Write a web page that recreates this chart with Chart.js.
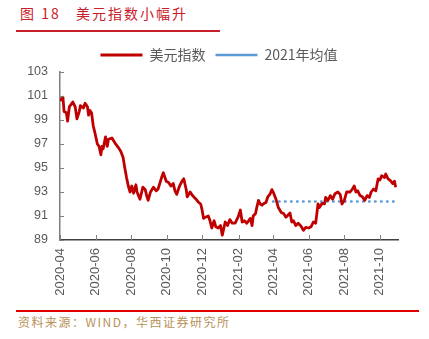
<!DOCTYPE html>
<html>
<head>
<meta charset="utf-8">
<script src="https://cdn.jsdelivr.net/npm/chart.js@4.4.0/dist/chart.umd.min.js"></script>
<style>
  html, body { margin: 0; padding: 0; background: #fff; }
  body { width: 429px; height: 339px; position: relative; overflow: hidden; font-family: "Noto Sans CJK SC", sans-serif; }
  #title { position: absolute; left: 20px; top: 3px; font-size: 14px; color: #C8202A; letter-spacing: 2px; white-space: pre; }
  #topline { position: absolute; left: 16px; top: 30px; width: 204px; height: 2px; background: #C8202A; }
  #wrap { position: absolute; left: 0; top: 38px; width: 429px; height: 267px; }
  #botline { position: absolute; left: 16px; top: 310px; width: 403px; height: 2px; background: #E00000; }
  #source { position: absolute; left: 18px; top: 313px; font-size: 12px; color: #B8925A; letter-spacing: 1.5px; }
</style>
</head>
<body>
<div id="title">图 18   美元指数小幅升</div>
<div id="topline"></div>
<div id="wrap"><canvas id="myChart"></canvas></div>
<div id="botline"></div>
<div id="source">资料来源：WIND，华西证券研究所</div>
<script>
// 美元指数
const dates = [
  '2020-04-01','2020-04-06','2020-04-08','2020-04-12','2020-04-14','2020-04-17','2020-04-23','2020-04-27','2020-04-30',
  '2020-05-04','2020-05-06','2020-05-11','2020-05-14','2020-05-18','2020-05-20','2020-05-22','2020-05-25','2020-05-28','2020-05-31',
  '2020-06-04','2020-06-07','2020-06-10','2020-06-12','2020-06-14','2020-06-18','2020-06-21','2020-06-23','2020-06-29',
  '2020-07-04','2020-07-10','2020-07-14','2020-07-18','2020-07-21','2020-07-24','2020-07-27','2020-07-30',
  '2020-08-02','2020-08-05','2020-08-09','2020-08-11','2020-08-16','2020-08-21','2020-08-25','2020-08-28','2020-08-30',
  '2020-09-03','2020-09-08','2020-09-13','2020-09-16','2020-09-22','2020-09-25','2020-09-30',
  '2020-10-04','2020-10-08','2020-10-12','2020-10-15','2020-10-18','2020-10-22','2020-10-27','2020-10-30',
  '2020-11-03','2020-11-05','2020-11-10','2020-11-14','2020-11-20','2020-11-24','2020-11-28','2020-11-30',
  '2020-12-03','2020-12-06','2020-12-11','2020-12-14','2020-12-17','2020-12-21','2020-12-24','2020-12-28',
  '2021-01-01','2021-01-04','2021-01-09','2021-01-13','2021-01-17','2021-01-21','2021-01-26','2021-01-31',
  '2021-02-04','2021-02-07','2021-02-11','2021-02-15','2021-02-18','2021-02-21','2021-02-24','2021-02-26',
  '2021-03-02','2021-03-04','2021-03-07','2021-03-10','2021-03-13','2021-03-15','2021-03-20','2021-03-23','2021-03-27','2021-03-30',
  '2021-04-02','2021-04-06','2021-04-10','2021-04-15','2021-04-19','2021-04-23','2021-04-26','2021-04-30',
  '2021-05-03','2021-05-06','2021-05-10','2021-05-14','2021-05-19','2021-05-23','2021-05-27',
  '2021-06-01','2021-06-05','2021-06-09','2021-06-13','2021-06-17','2021-06-19','2021-06-24','2021-06-28','2021-06-30',
  '2021-07-04','2021-07-08','2021-07-12','2021-07-16','2021-07-21','2021-07-25','2021-07-28',
  '2021-08-01','2021-08-05','2021-08-11','2021-08-15','2021-08-18','2021-08-21','2021-08-24','2021-08-28',
  '2021-09-01','2021-09-05','2021-09-09','2021-09-13','2021-09-16','2021-09-20','2021-09-24','2021-09-28',
  '2021-10-01','2021-10-04','2021-10-09','2021-10-11','2021-10-15','2021-10-19','2021-10-23','2021-10-26','2021-10-28'
]
const dxy = [
  100.6,100.9,99.7,99.6,98.9,100.1,100.5,100.1,99.1,
  99.7,100.2,100.0,100.4,100.1,99.4,99.8,99.6,98.5,97.9,
  97.0,96.8,96.1,96.8,96.6,97.6,96.8,97.4,97.5,
  97.1,96.7,96.4,95.9,95.0,94.2,93.5,93.0,
  93.5,92.9,93.6,93.0,92.4,93.4,93.2,92.6,92.3,
  93.0,93.4,93.1,93.25,94.2,94.6,93.9,
  93.8,93.5,93.7,93.1,92.8,93.4,93.9,94.1,
  93.25,92.6,93.0,92.7,92.4,92.15,92.0,91.6,
  90.8,90.9,91.0,90.6,90.0,90.6,90.1,90.0,
  90.2,89.4,90.5,90.2,90.7,90.4,90.4,90.9,
  91.5,90.5,90.6,90.4,90.6,90.8,90.2,91.0,
  91.2,91.7,92.3,92.0,91.9,92.0,92.15,92.6,92.85,93.2,
  92.9,92.4,91.7,91.3,91.2,90.9,91.05,91.25,
  90.5,90.6,90.2,90.4,90.15,89.8,90.05,
  90.0,90.1,90.5,90.4,92.0,91.7,92.05,92.0,92.55,
  92.3,92.7,92.4,92.85,93.0,92.8,92.0,
  92.3,93.0,93.0,93.25,93.5,93.0,93.1,92.7,
  92.6,92.3,92.7,92.55,93.0,93.25,93.1,94.1,
  94.0,94.35,94.2,94.5,94.1,93.95,93.7,93.9,93.4
]
// 2021年均值
const avgDates = ['2021-04-01', '2021-10-28']
const avgValue = 92.2

const xTickLabels = ['2020-04','2020-06','2020-08','2020-10','2020-12','2021-02','2021-04','2021-06','2021-08','2021-10']
const yTicks = [89, 91, 93, 95, 97, 99, 101, 103]
const xEnd = '2021-11-01'

const dayIndex = s => {
  const p = s.split('-').map(Number)
  return (Date.UTC(p[0], p[1] - 1, p[2] || 1) - Date.UTC(2020, 3, 1)) / 86400000
}

const labelColor = '#595959'

// tick marks drawn inside the plot, like the original
const innerTicks = {
  id: 'innerTicks',
  afterLayout(chart) {
    // legend sits a bit right of the canvas centre in the original
    chart.legend.left += 10
    chart.legend.right += 10
  },
  afterDraw(chart) {
    const ctx = chart.ctx
    const xs = chart.scales.x, ys = chart.scales.y
    const a = chart.chartArea
    ctx.save()
    ctx.strokeStyle = '#7f7f7f'
    ctx.lineWidth = 1
    ctx.beginPath()
    ys.ticks.forEach(t => {
      const py = Math.round(ys.getPixelForValue(t.value)) + 0.5
      ctx.moveTo(a.left, py); ctx.lineTo(a.left + 4, py)
    })
    xs.ticks.forEach(t => {
      const px = Math.round(xs.getPixelForValue(t.value)) + 0.5
      ctx.moveTo(px, a.bottom); ctx.lineTo(px, a.bottom - 5)
    })
    ctx.stroke()
    ctx.restore()
  }
}

new Chart(document.getElementById('myChart'), {
  type: 'line',
  data: {
    datasets: [
      {
        label: '美元指数',
        data: dates.map((d, i) => ({ x: dayIndex(d), y: dxy[i] })),
        borderColor: '#C00000',
        backgroundColor: '#C00000',
        borderWidth: 2.8,
        pointRadius: 0,
        tension: 0,
        borderJoinStyle: 'round'
      },
      {
        label: '2021年均值',
        data: avgDates.map(d => ({ x: dayIndex(d), y: avgValue })),
        borderColor: '#5B9BD5',
        backgroundColor: '#5B9BD5',
        borderWidth: 2.5,
        borderDash: [0.5, 5.5],
        borderCapStyle: 'round',
        pointRadius: 0
      }
    ]
  },
  options: {
    responsive: true,
    maintainAspectRatio: false,
    animation: false,
    layout: { padding: { left: 20, right: 31, top: 0, bottom: 0 } },
    plugins: {
      legend: {
        position: 'top',
        labels: {
          usePointStyle: true,
          pointStyle: 'line',
          pointStyleWidth: 42,
          padding: 10,
          color: labelColor,
          font: { family: '"Noto Sans CJK SC", sans-serif', size: 14 }
        }
      },
      tooltip: { enabled: false }
    },
    scales: {
      x: {
        type: 'linear',
        min: 0,
        max: dayIndex(xEnd),
        afterBuildTicks: s => { s.ticks = xTickLabels.map(l => ({ value: dayIndex(l) })) },
        afterFit: s => { s.height = 65 },
        grid: { display: false, drawTicks: false },
        border: { display: true, color: '#404040', width: 1.5 },
        ticks: {
          minRotation: 90,
          maxRotation: 90,
          padding: 8,
          color: labelColor,
          font: { family: '"Liberation Sans", Arial, sans-serif', size: 13 },
          callback: (v, i) => xTickLabels[i]
        }
      },
      y: {
        min: 89,
        max: 103,
        afterBuildTicks: s => { s.ticks = yTicks.map(v => ({ value: v })) },
        afterFit: s => { s.width = 40 },
        grid: { display: false, drawTicks: false },
        border: { display: true, color: '#7f7f7f', width: 1.5 },
        ticks: {
          padding: 12,
          color: labelColor,
          font: { family: '"Liberation Sans", Arial, sans-serif', size: 12.5 }
        }
      }
    }
  },
  plugins: [innerTicks]
})
</script>
</body>
</html>
